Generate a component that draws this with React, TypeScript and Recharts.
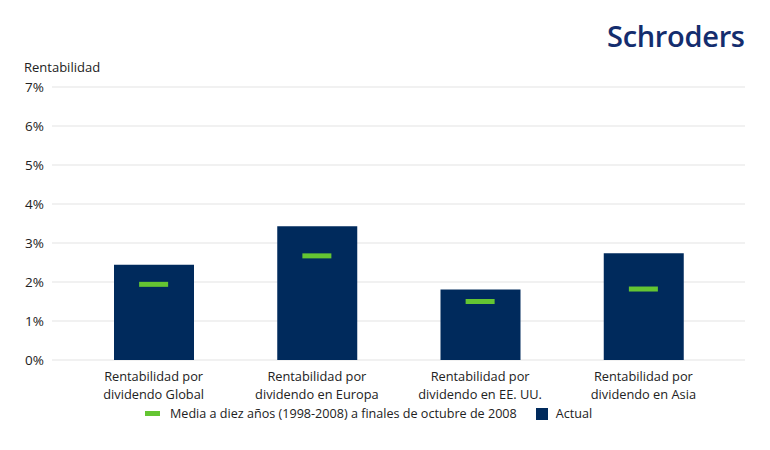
import React from 'react';
import { ComposedChart, Bar, Line, XAxis, YAxis, CartesianGrid } from 'recharts';

const categories = [
  'Rentabilidad por\ndividendo Global',
  'Rentabilidad por\ndividendo en Europa',
  'Rentabilidad por\ndividendo en EE. UU.',
  'Rentabilidad por\ndividendo en Asia',
];
const actual = [2.44, 3.43, 1.81, 2.74];
const tenYearAvg = [1.94, 2.67, 1.5, 1.82];
const yTicks = [0, 1, 2, 3, 4, 5, 6, 7];

const data = categories.map((name, i) => ({ name, actual: actual[i], avg: tenYearAvg[i] }));

const NAVY = '#002a5c';
const GREEN = '#64c532';
const FONT = '"Open Sans", "Noto Sans", sans-serif';

function CategoryTick({ x, y, payload }: any) {
  const lines = String(payload.value).split('\n');
  return (
    <g>
      {lines.map((l, i) => (
        <text key={i} x={x} y={y + 13 + i * 17.5} textAnchor="middle" fill="#222" fontSize={12.8} fontFamily={FONT}>
          {l}
        </text>
      ))}
    </g>
  );
}

function AvgMarker({ cx, cy }: any) {
  if (cx == null || cy == null) return null;
  return <rect x={cx - 14.5} y={cy - 2.5} width={29} height={5} fill={GREEN} />;
}

export default function App() {
  return (
    <div style={{ position: 'absolute', left: 0, top: 0, width: 770, height: 450, background: '#fff', fontFamily: FONT }}>
      <div style={{ position: 'absolute', left: 607, top: 16, fontSize: 29, fontWeight: 600, color: '#142d6e', letterSpacing: -0.3 }}>
        Schroders
      </div>
      <div style={{ position: 'absolute', left: 24, top: 58, fontSize: 13, color: '#222' }}>Rentabilidad</div>

      <ComposedChart
        width={770}
        height={450}
        data={data}
        margin={{ top: 87, right: 25, left: 0, bottom: 40 }}
        barCategoryGap={0}
      >
        <CartesianGrid vertical={false} stroke="#e3e3e3" />
        <XAxis
          dataKey="name"
          axisLine={false}
          tickLine={false}
          height={50}
          interval={0}
          padding={{ left: 20, right: 20 }}
          tick={<CategoryTick />}
        />
        <YAxis
          domain={[0, 7]}
          ticks={yTicks}
          width={52}
          axisLine={false}
          tickLine={false}
          tickFormatter={(v) => `${v}%`}
          tick={{ fill: '#222', fontSize: 13.5, fontFamily: FONT }}
        />
        <Bar dataKey="actual" fill={NAVY} barSize={80} isAnimationActive={false} />
        <Line
          dataKey="avg"
          stroke="none"
          dot={<AvgMarker />}
          activeDot={false}
          isAnimationActive={false}
        />
      </ComposedChart>

      <div style={{ position: 'absolute', left: 145, top: 405, display: 'flex', alignItems: 'center', fontSize: 12.6, color: '#222' }}>
        <span style={{ display: 'inline-block', width: 15, height: 5, background: GREEN, marginRight: 10 }} />
        <span>Media a diez años (1998-2008) a finales de octubre de 2008</span>
        <span style={{ display: 'inline-block', width: 12, height: 12, background: NAVY, marginLeft: 19, marginRight: 8 }} />
        <span>Actual</span>
      </div>
    </div>
  );
}
